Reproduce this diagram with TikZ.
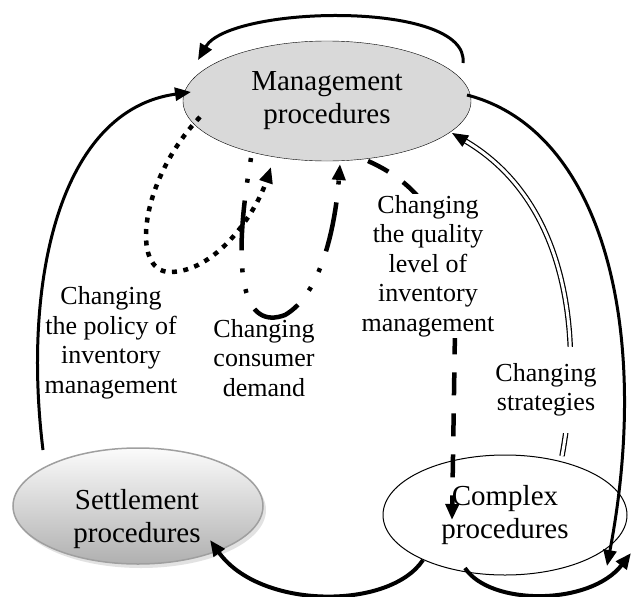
\documentclass[tikz,border=0pt]{standalone}
\usepackage{fontspec}
\setmainfont{Liberation Serif}
\usetikzlibrary{arrows.meta,shadows,shapes.geometric}

\begin{document}
\begin{tikzpicture}[%
    x=1pt, y=-1pt,
    >={Triangle[length=16pt,width=13pt]},
    proc/.style={ellipse, align=center, inner sep=0pt,
      font=\fontsize{29}{33}\selectfont},
    proctext/.style={align=center, inner sep=0pt,
      font=\fontsize{29}{33}\selectfont},
    lbl/.style={align=center, inner sep=1pt,
      font=\fontsize{26}{29.5}\selectfont},
    flow/.style={->, line width=3pt}
  ]
  \useasboundingbox (0,0) rectangle (632,597);

  % the three procedures
  \node[proc, draw, fill=black!15, minimum width=288pt, minimum height=120pt]
    (mgmt) at (327,101) {Management\\procedures};
  \node[proc, draw=gray!75, line width=1.5pt, top color=gray!3, bottom color=gray!62,
    drop shadow={shadow xshift=3pt, shadow yshift=-4pt, fill=gray!45},
    minimum width=250pt, minimum height=116pt]
    (settle) at (138,506) {};
  \node[proctext] (settleText) at (137,519) {Settlement\\procedures};
  \node[proc, draw, line width=1pt, fill=white, minimum width=244pt, minimum height=120pt]
    (cplx) at (505,515) {Complex\\procedures};

  % solid loops
  \coordinate (topS) at (463,63);
  \coordinate (topE) at (198,60);
  \draw[flow] (topS) .. controls (470,0) and (230,5) .. (topE);
  \coordinate (leftS) at (43,450);
  \coordinate (leftE) at (191,92);
  \draw[flow] (leftS) .. controls (22,280) and (60,110) .. (leftE);
  \coordinate (rightS) at (467,95);
  \coordinate (rightE) at (607,566);
  \draw[flow] (rightS) .. controls (603,130) and (652,330) .. (rightE);
  \coordinate (botS) at (423,560);
  \coordinate (botE) at (210,540);
  \draw[flow, line width=4pt] (botS) .. controls (390,610) and (260,610) .. (botE);
  \coordinate (brS) at (465,568);
  \coordinate (brE) at (631,553);
  \draw[flow, line width=4pt] (brS) .. controls (490,606) and (590,606) .. (brE);

  % changes
  \coordinate (polS) at (200,117);
  \coordinate (polE) at (271,167);
  \draw[->, line width=4.5pt, dash pattern=on 5pt off 6.5pt]
    (polS) .. controls (140,180) and (130,272) .. (170,272)
           .. controls (215,272) and (255,215) .. (polE);
  \coordinate (demS) at (251,158);
  \coordinate (demE) at (340,164);
  \draw[->, line width=4.5pt, dash pattern=on 4pt off 17pt on 4pt off 18pt on 50pt off 18pt]
    (demS) .. controls (230,280) and (245,330) .. (285,315)
           .. controls (320,295) and (335,230) .. (demE);
  \coordinate (qS) at (368,161);
  \coordinate (qE) at (452,520);
  \draw[->, line width=4.5pt, dash pattern=on 23pt off 18pt]
    (qS) .. controls (422,185) and (457,230) .. (455,330) -- (qE);
  \coordinate (strS) at (562,456);
  \coordinate (strE) at (452,133);
  \draw[->, double, double distance=3pt, line width=1.2pt]
    (strS) .. controls (585,330) and (565,200) .. (strE);

  % labels
  \node[lbl] (policy) at (111,343) {Changing\\the policy of\\inventory\\management};
  \node[lbl] (demand) at (264,358) {Changing\\consumer\\demand};
  \node[lbl, fill=white] (quality) at (428,266) {Changing\\the quality\\level of\\inventory\\management};
  \node[lbl, fill=white, inner ysep=16pt] (strategy) at (546,390) {Changing\\strategies};
\end{tikzpicture}
\end{document}
